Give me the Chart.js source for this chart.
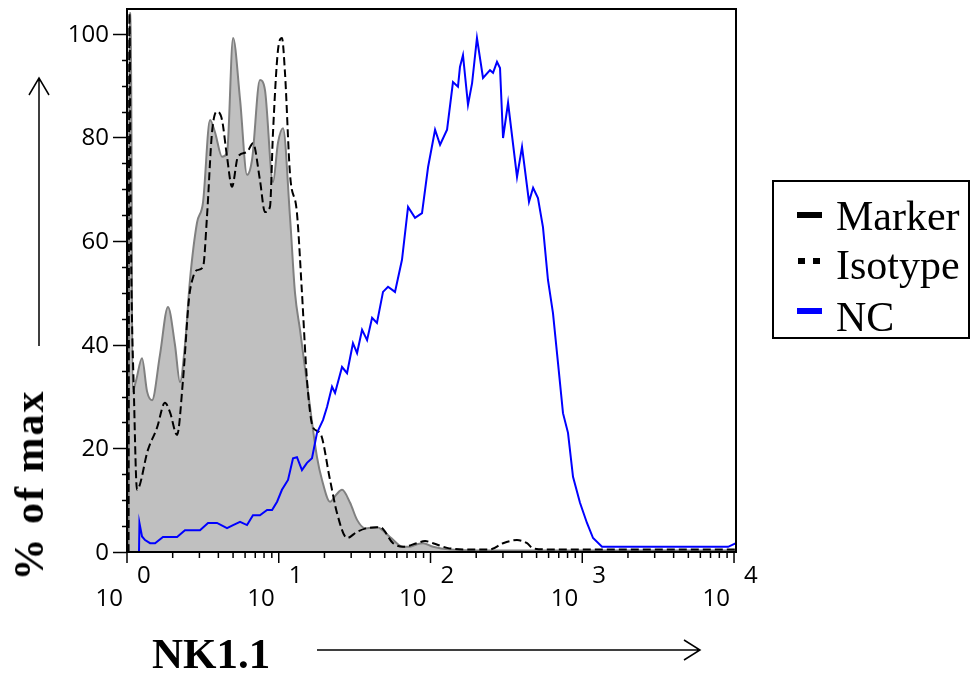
<!DOCTYPE html>
<html>
<head>
<meta charset="utf-8">
<script src="https://cdn.jsdelivr.net/npm/chart.js@4.4.1/dist/chart.umd.min.js"></script>
<style>
  html, body { margin: 0; padding: 0; background: #fff; }
  #wrap { position: relative; width: 972px; height: 677px; overflow: hidden; }
  #hist { position: absolute; left: 0; top: 0; }
  .txt { position: absolute; white-space: nowrap; line-height: 1; color: #000; pointer-events: none; }
  .serif { font-family: 'Liberation Serif', 'DejaVu Serif', serif; }
  #ytitle { left: 29px; top: 485px; font-size: 42px; font-weight: bold; letter-spacing: 2px;
            transform: translate(-50%, -50%) rotate(-90deg); }
  #xtitle { left: 152px; top: 632px; font-size: 43px; font-weight: bold; }
  #legend { position: absolute; left: 772px; top: 180px; width: 198px; height: 159px;
            border: 2px solid #000; box-sizing: border-box; }
  .leg-txt { font-size: 42px; left: 836px; }
  .icon { position: absolute; }
</style>
</head>
<body>
<div id="wrap">
  <canvas id="hist" width="972" height="677"></canvas>
  <div id="legend"></div>
  <div class="icon" style="left:797px;top:212px;width:25px;height:6px;background:#000"></div>
  <div class="icon" style="left:798px;top:258px;width:7px;height:6px;background:#000"></div>
  <div class="icon" style="left:813px;top:258px;width:7px;height:6px;background:#000"></div>
  <div class="icon" style="left:797px;top:308px;width:25px;height:6px;background:#0000ff"></div>
  <div class="txt serif leg-txt" style="top:195px">Marker</div>
  <div class="txt serif leg-txt" style="top:244px">Isotype</div>
  <div class="txt serif leg-txt" style="top:296px">NC</div>
  <div id="ytitle" class="txt serif">% of max</div>
  <div id="xtitle" class="txt serif">NK1.1</div>
</div>
<script>
// ─────────────────────────────────────────────
//  Data  (x = log10 of NK1.1 intensity, y = % of max)
// ─────────────────────────────────────────────
const markerX = [0.010, 0.016, 0.026, 0.036, 0.059, 0.099, 0.132, 0.165, 0.217, 0.270, 0.316, 0.349, 0.382, 0.415,
  0.461, 0.501, 0.547, 0.580, 0.626, 0.659, 0.699, 0.745, 0.791, 0.824, 0.876, 0.909, 0.962, 0.995, 1.028,
  1.074, 1.107, 1.140, 1.206, 1.252, 1.285, 1.338, 1.377, 1.417, 1.470, 1.516, 1.568, 1.647, 1.733, 1.819,
  1.865, 1.911, 1.951, 2.017, 2.129, 2.458, 3.117, 4.013];
const markerY = [0, 104, 104, 31, 33, 37.4, 31, 29.3, 38, 47.3, 40, 32.8, 40, 52.5,
  63.5, 67.5, 83.4, 81, 76.3, 77, 99.2, 87.3, 72.8, 75.7, 91.1, 89.2, 71.4, 79, 81.8,
  64.7, 50, 42.9, 28, 18.3, 13.9, 9.7, 11, 12, 9.5, 6.2, 4.6, 4.8, 2.9, 1,
  1, 1.5, 1.7, 1, 0.5, 0.3, 0.3, 0.3];

const isotypeX = [0.010, 0.016, 0.026, 0.046, 0.066, 0.138, 0.198, 0.250, 0.283, 0.330, 0.369, 0.409, 0.435,
  0.461, 0.501, 0.527, 0.560, 0.593, 0.626, 0.659, 0.692, 0.731, 0.791, 0.830, 0.876, 0.909, 0.942,
  0.962, 0.995, 1.021, 1.041, 1.074, 1.120, 1.153, 1.186, 1.226, 1.272, 1.338, 1.384, 1.450, 1.516,
  1.582, 1.667, 1.753, 1.819, 1.911, 1.964, 2.017, 2.109, 2.241, 2.392, 2.478, 2.570, 2.636, 2.676,
  2.788, 4.013];
const isotypeY = [0, 104, 60, 30, 12, 19.7, 24, 28.8, 27, 22.6, 33.2, 49, 53,
  54.4, 55, 64.7, 80.9, 85, 83.4, 76.3, 70.5, 76.3, 77.2, 78.9, 71.8, 65.6, 66.6,
  80.9, 96.9, 99.2, 92.5, 73, 65.4, 50, 33.2, 24, 23, 13.9, 7.5, 2.7, 3.9,
  4.6, 4.8, 1.7, 1, 1.7, 2.1, 1.7, 0.8, 0.5, 0.5, 1.7, 2.3, 1.7, 0.7,
  0.5, 0.5];

const ncX = [0.079, 0.082, 0.099, 0.119, 0.152, 0.185, 0.237, 0.330, 0.382, 0.481, 0.534, 0.593, 0.659,
  0.699, 0.745, 0.791, 0.830, 0.876, 0.923, 0.956, 0.989, 1.021, 1.061, 1.094, 1.120, 1.153, 1.186,
  1.219, 1.252, 1.292, 1.318, 1.351, 1.371, 1.417, 1.450, 1.489, 1.516, 1.549, 1.582, 1.615, 1.647,
  1.687, 1.720, 1.766, 1.812, 1.852, 1.898, 1.944, 1.984, 2.030, 2.063, 2.109, 2.148, 2.181, 2.194,
  2.214, 2.247, 2.274, 2.306, 2.346, 2.392, 2.412, 2.438, 2.458, 2.478, 2.511, 2.570, 2.603, 2.649,
  2.676, 2.708, 2.741, 2.774, 2.807, 2.840, 2.873, 2.906, 2.939, 2.985, 3.031, 3.071, 3.130, 3.961,
  4.013];
const ncY = [0, 5.6, 3, 2.3, 1.7, 1.7, 2.9, 2.9, 4.2, 4.2, 5.6, 5.6, 4.6,
  5.2, 5.8, 5.2, 7.1, 7.1, 8.1, 8.1, 9.7, 12, 13.9, 18.1, 18.3, 15.8, 17.2,
  18.1, 23, 25.5, 28, 31.9, 30.7, 35.7, 34.5, 40.3, 38.4, 42.9, 40.9, 45.2, 44.2,
  50.2, 51.2, 50.2, 56.4, 66.6, 64.5, 65.4, 74.3, 81.5, 78.6, 81.5, 90.7, 89.8, 93.6,
  95.9, 86.3, 90.5, 99.2, 91.5, 93, 92.5, 94.6, 93.4, 79.9, 86.7, 72.4, 78.2, 67.6,
  70.3, 68.3, 62.7, 52.5, 46.1, 36.5, 26.8, 23, 14.5, 9.5, 5.6, 2.7, 1, 1,
  1.7];

const decadeTicks = [0, 1, 2, 3, 4];          // 10^0 .. 10^4
const yTickLabels = [0, 20, 40, 60, 80, 100];

const pts = (xs, ys) => xs.map((x, i) => ({ x, y: ys[i] }));

// ─────────────────────────────────────────────
//  Axes / frame / arrows drawn on top
// ─────────────────────────────────────────────
const frame = {
  id: 'frame',
  afterDraw(chart) {
    const { ctx, chartArea: a, scales: { x, y } } = chart;
    ctx.save();
    ctx.strokeStyle = '#000';
    ctx.fillStyle = '#000';

    // box
    ctx.lineWidth = 2;
    ctx.strokeRect(a.left, a.top, a.right - a.left, a.bottom - a.top);

    // y ticks every 5, labels every 20
    ctx.lineWidth = 1.5;
    for (let v = 0; v <= 100; v += 5) {
      const py = Math.round(y.getPixelForValue(v)) + 0.5;
      const len = v % 20 === 0 ? 14 : 5;
      ctx.beginPath(); ctx.moveTo(a.left - len, py); ctx.lineTo(a.left, py); ctx.stroke();
    }
    ctx.font = "24px 'Open Sans', sans-serif";
    ctx.textAlign = 'right';
    ctx.textBaseline = 'middle';
    yTickLabels.forEach(v => ctx.fillText(String(v), 109, y.getPixelForValue(v) + 1));

    // x ticks: decades long, 2..9 short
    decadeTicks.forEach(d => {
      const px = x.getPixelForValue(d);
      ctx.beginPath(); ctx.moveTo(px, a.bottom); ctx.lineTo(px, a.bottom + 11); ctx.stroke();
      if (d < 4) {
        for (let k = 2; k <= 9; k++) {
          const mx = x.getPixelForValue(d + Math.log10(k));
          ctx.beginPath(); ctx.moveTo(mx, a.bottom); ctx.lineTo(mx, a.bottom + 6); ctx.stroke();
        }
      }
      ctx.textAlign = 'right';
      ctx.fillText('10', px - 4, 599);
      ctx.textAlign = 'left';
      ctx.fillText(String(d), px + 10, 576);
    });

    // direction arrows
    ctx.lineWidth = 1.5;
    ctx.beginPath();
    ctx.moveTo(39, 346); ctx.lineTo(39, 78);
    ctx.moveTo(29, 95); ctx.lineTo(39, 78); ctx.lineTo(49, 95);
    ctx.moveTo(317, 650); ctx.lineTo(700, 650);
    ctx.moveTo(684, 640); ctx.lineTo(700, 650); ctx.lineTo(684, 660);
    ctx.stroke();
    ctx.restore();
  }
};

new Chart(document.getElementById('hist'), {
  type: 'line',
  data: {
    datasets: [
      {
        label: 'NC',
        data: pts(ncX, ncY),
        borderColor: '#0000ff',
        borderWidth: 2,
        pointRadius: 0,
        tension: 0,
        order: 1,
      },
      {
        label: 'Isotype',
        data: pts(isotypeX, isotypeY),
        borderColor: '#000',
        borderWidth: 2,
        borderDash: [8, 4],
        pointRadius: 0,
        cubicInterpolationMode: 'monotone',
        order: 2,
      },
      {
        label: 'Marker',
        data: pts(markerX, markerY),
        borderColor: '#808080',
        backgroundColor: '#c0c0c0',
        borderWidth: 2,
        fill: 'origin',
        pointRadius: 0,
        cubicInterpolationMode: 'monotone',
        order: 3,
      },
    ],
  },
  options: {
    responsive: false,
    animation: false,
    devicePixelRatio: 1,
    layout: { padding: { left: 127, right: 236, top: 9, bottom: 125 } },
    plugins: { legend: { display: false }, tooltip: { enabled: false } },
    scales: {
      x: { type: 'linear', min: 0, max: 4.013, display: false },
      y: { min: 0, max: 104.8, display: false },
    },
  },
  plugins: [frame],
});
</script>
</body>
</html>
